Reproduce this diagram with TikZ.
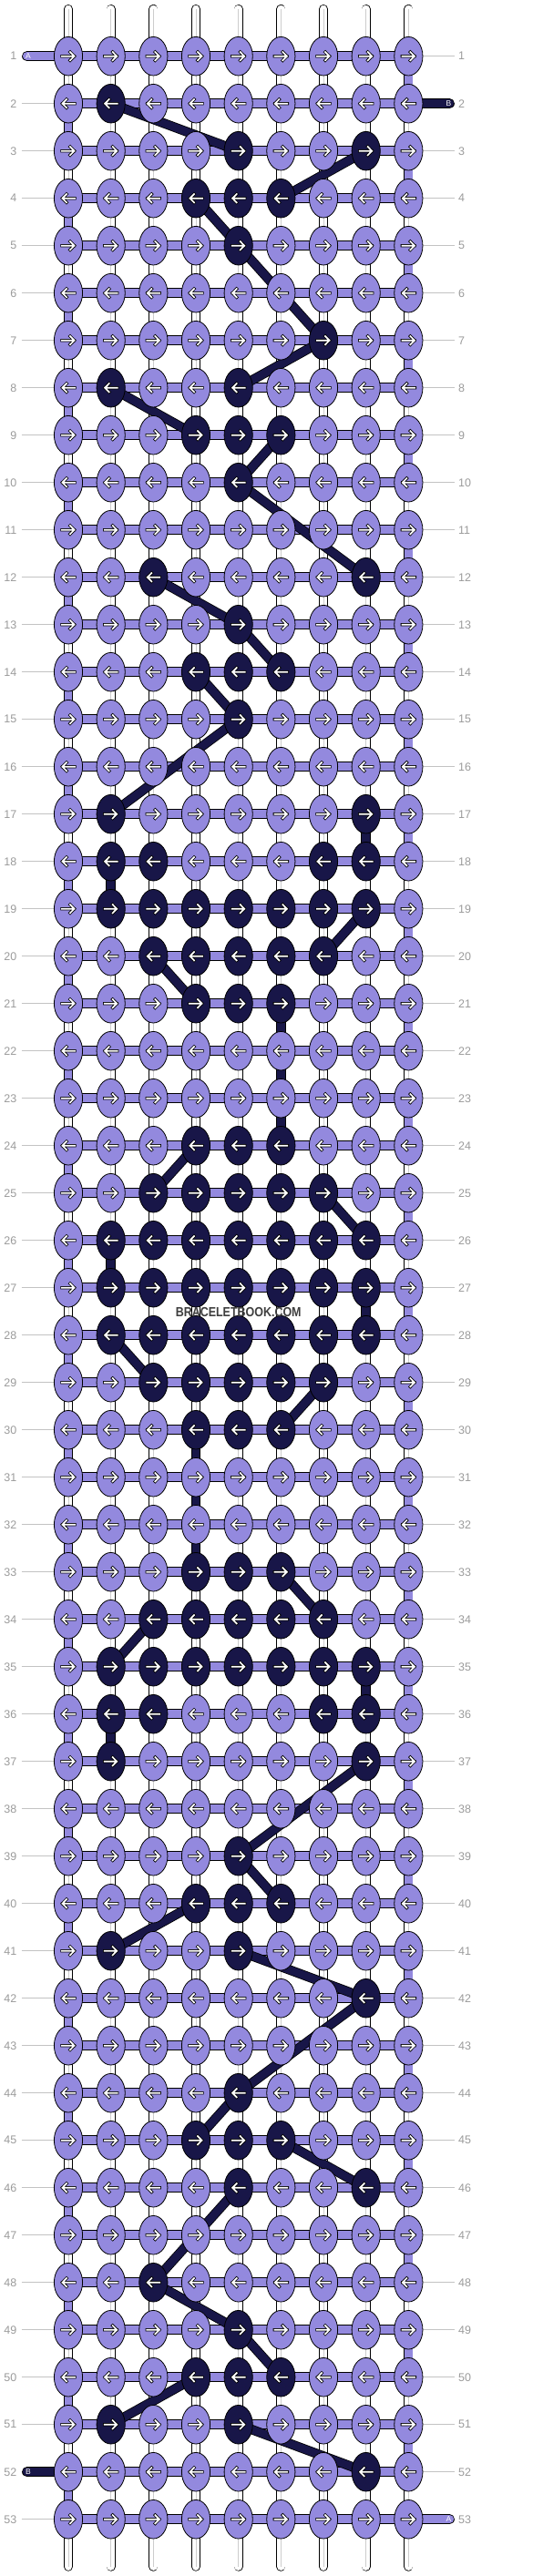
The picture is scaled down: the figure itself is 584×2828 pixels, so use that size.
\documentclass[tikz,border=0pt]{standalone}
\usepackage{fontspec}
\setmainfont{Liberation Sans}
\usetikzlibrary{shapes.geometric}
\definecolor{lite}{RGB}{147,137,222}
\definecolor{navy}{RGB}{24,22,72}
\definecolor{numgray}{RGB}{155,155,155}
\definecolor{rulegray}{RGB}{195,195,195}
\definecolor{coregray}{RGB}{205,205,205}
\definecolor{markgray}{RGB}{62,62,62}

\begin{document}
\begin{tikzpicture}[x=1pt,y=-1pt,
  knot/.style={ellipse,draw=black,line width=0.8,minimum width=31.2,minimum height=42.6,inner sep=0},
  num/.style={text=numgray,font=\fontsize{12.5}{12.5}\selectfont,inner sep=0},
  tag/.style={text=white,font=\fontsize{8.5}{8.5}\selectfont,inner sep=0},
  rule/.style={rulegray,line width=0.9},
  tubeo/.style={black,line width=10.2},
  tubef/.style={line width=8.6},
  core/.style={coregray,line width=0.8},
  baro/.style={black,line width=11},
  barf/.style={line width=9.4},
  strando/.style={black,line width=10.4},
  strandf/.style={navy,line width=8.8},
  rgt/.pic={
    \draw[black,line width=3.3,line cap=rect,line join=miter] (-7,0) -- (6.5,0) (2,-4.6) -- (6.5,0) -- (2,4.6);
    \draw[white,line width=1.7,line cap=rect,line join=miter] (-7,0) -- (6.5,0) (2,-4.6) -- (6.5,0) -- (2,4.6);
  }]
\useasboundingbox (0,0) rectangle (584,2828);

\foreach \r in {1,...,53}{
  \coordinate (l-\r) at (18.5,{61.7+52*(\r-1)});
  \coordinate (r-\r) at (503,{61.7+52*(\r-1)});
  \foreach \c in {1,...,9}
    \coordinate (p-\r-\c) at ({75+46.67*(\c-1)},{61.7+52*(\r-1)});
}
\foreach \c in {1,...,9}{
  \coordinate (t-\c) at ({75+46.67*(\c-1)},10);
  \coordinate (b-\c) at ({75+46.67*(\c-1)},2817.6);
}

\foreach \c in {1,...,9}{
  \draw[tubeo,line cap=round] (t-\c) -- (p-1-\c);
  \draw[tubef,white,line cap=round] (t-\c) -- (p-1-\c);
  \draw[core] (t-\c) -- (p-1-\c);
  \draw[tubeo,line cap=round] (p-53-\c) -- (b-\c);
  \draw[tubef,white,line cap=round] (p-53-\c) -- (b-\c);
  \draw[core] (p-53-\c) -- (b-\c);
}

\def\wht{white}
\foreach \r in {1,...,52}{
  \pgfmathtruncatemacro\s{\r+1}
  \foreach \c in {1,...,9}{
    \def\tf{white}
    \ifnum\c=1 \ifodd\r\else\def\tf{lite}\fi\fi
    \ifnum\c=9 \ifodd\r\def\tf{lite}\fi\fi
    \draw[tubeo] (p-\r-\c) -- (p-\s-\c);
    \draw[tubef,\tf] (p-\r-\c) -- (p-\s-\c);
    \ifx\tf\wht \draw[core] (p-\r-\c) -- (p-\s-\c);\fi
  }
}

% row numbers
\foreach \r in {1,...,53}{
  \node[num,anchor=east] (ln-\r) at (l-\r) {\r};
  \node[num,anchor=west] (rn-\r) at (r-\r) {\r};
}
\foreach \r in {2,...,51,53}
  \draw[rule] ([xshift=5]ln-\r.east) -- (p-\r-1);
\foreach \r in {1,3,4,...,52}
  \draw[rule] (p-\r-9) -- ([xshift=-4]rn-\r.west);

% A and B ends
\coordinate (a-in) at (29.6,61.7);
\coordinate (b-in) at (493.4,113.7);
\coordinate (b-out) at (29.6,2713.7);
\coordinate (a-out) at (493.4,2765.7);
\draw[baro,line cap=round] (a-in) -- (p-1-1);
\draw[barf,lite,line cap=round] (a-in) -- (p-1-1);
\draw[baro,line cap=round] (p-2-9) -- (b-in);
\draw[barf,navy,line cap=round] (p-2-9) -- (b-in);
\draw[baro,line cap=round] (b-out) -- (p-52-1);
\draw[barf,navy,line cap=round] (b-out) -- (p-52-1);
\draw[baro,line cap=round] (p-53-9) -- (a-out);
\draw[barf,lite,line cap=round] (p-53-9) -- (a-out);
\node[tag] (ta-in) at (31,61.7) {A};
\node[tag] (tb-in) at (492.5,113.7) {B};
\node[tag] (tb-out) at (31,2713.7) {B};
\node[tag] (ta-out) at (492.5,2765.7) {A};

\foreach \r in {1,...,53}{
  \draw[baro] (p-\r-1) -- (p-\r-9);
  \draw[barf,lite] (p-\r-1) -- (p-\r-9);
}

% dark strand
\foreach \ra/\ca/\rb/\cb in {2/2/3/5,3/8/4/6,4/4/5/5,5/5/7/7,7/7/8/5,8/2/9/4,9/6/10/5,10/5/12/8,
  12/3/13/5,13/5/14/6,14/4/15/5,15/5/17/2,17/8/18/8,18/2/19/2,19/8/20/7,20/3/21/4,21/6/24/6,
  24/4/25/3,25/7/26/8,26/2/27/2,27/8/28/8,28/2/29/3,29/7/30/6,30/4/33/4,33/6/34/7,34/3/35/2,
  35/8/36/8,36/2/37/2,37/8/39/5,39/5/40/6,40/4/41/2,41/5/42/8,42/8/44/5,44/5/45/4,45/6/46/8,
  46/5/48/3,48/3/49/5,49/5/50/6,50/4/51/2,51/5/52/8}{
  \draw[strando] (p-\ra-\ca) -- (p-\rb-\cb);
  \draw[strandf] (p-\ra-\ca) -- (p-\rb-\cb);
}

\foreach \r/\cs in {2/{2},3/{5,8},4/{4,5,6},5/{5},7/{7},8/{2,5},9/{4,5,6},10/{5},12/{3,8},13/{5},
  14/{4,5,6},15/{5},17/{2,8},18/{2,3,7,8},19/{2,...,8},20/{3,...,7},21/{4,5,6},24/{4,5,6},
  25/{3,...,7},26/{2,...,8},27/{2,...,8},28/{2,...,8},29/{3,...,7},30/{4,5,6},33/{4,5,6},
  34/{3,...,7},35/{2,...,8},36/{2,3,7,8},37/{2,8},39/{5},40/{4,5,6},41/{2,5},42/{8},44/{5},
  45/{4,5,6},46/{5,8},48/{3},49/{5},50/{4,5,6},51/{2,5},52/{8}}
  \foreach \c in \cs
    \expandafter\gdef\csname dk-\r-\c\endcsname{};

\foreach \r in {1,...,53}{
  \foreach \c in {1,...,9}{
    \ifcsname dk-\r-\c\endcsname\def\kf{navy}\else\def\kf{lite}\fi
    \node[knot,fill=\kf] (k-\r-\c) at (p-\r-\c) {};
    \ifodd\r\relax
      \pic at (k-\r-\c) {rgt};
    \else
      \pic[xscale=-1] at (k-\r-\c) {rgt};
    \fi
  }
}

\node[text=markgray,font=\bfseries\fontsize{14.5}{14.5}\selectfont,inner sep=0] (mark) at (261.7,1440)
  {\scalebox{0.86}[1]{BRACELETBOOK.COM}};
\end{tikzpicture}
\end{document}
